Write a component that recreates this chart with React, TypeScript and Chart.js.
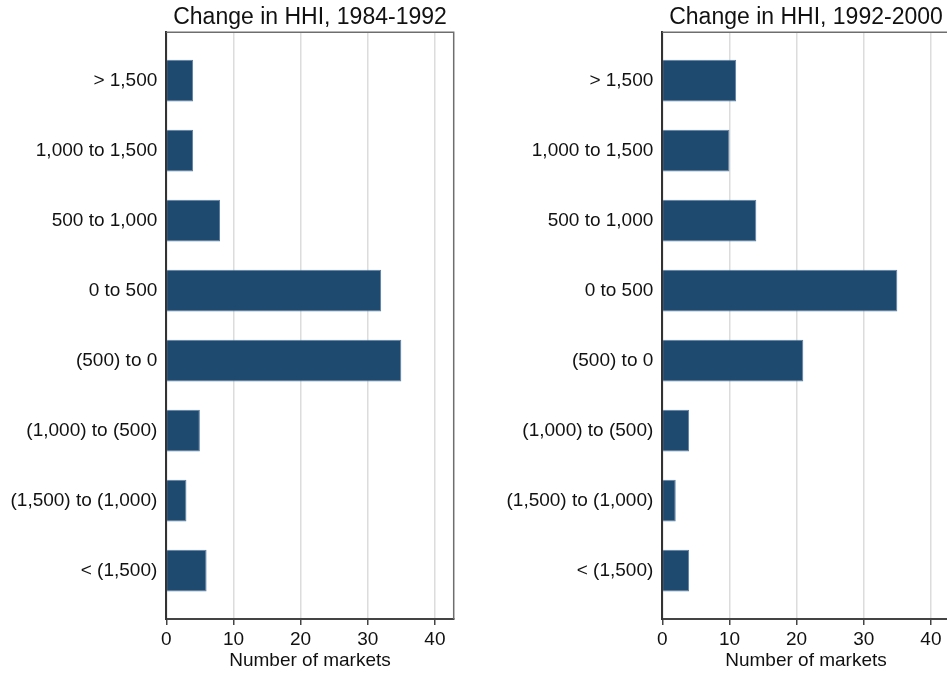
import React, { useEffect, useRef } from "react";
import { Chart, registerables } from "chart.js";

Chart.register(...registerables);

const categories = [
  "> 1,500",
  "1,000 to 1,500",
  "500 to 1,000",
  "0 to 500",
  "(500) to 0",
  "(1,000) to (500)",
  "(1,500) to (1,000)",
  "< (1,500)",
];
const values1984to1992 = [4, 4, 8, 32, 35, 5, 3, 6];
const values1992to2000 = [11, 10, 14, 35, 21, 4, 2, 4];
const xTicks = [0, 10, 20, 30, 40];
const panelTitles = ["Change in HHI, 1984-1992", "Change in HHI, 1992-2000"];
const xAxisTitle = "Number of markets";

const FONT = "'Liberation Sans', Arial, Helvetica, sans-serif";
const CANVAS_W = 480;
const CANVAS_H = 674;

const framePlugin = {
  id: "frame",
  afterDraw(chart: any) {
    const { ctx, chartArea } = chart;
    const { left, top, right, bottom } = chartArea;
    ctx.save();
    ctx.strokeStyle = "#6e6e6e";
    ctx.lineWidth = 1.5;
    ctx.beginPath();
    ctx.moveTo(left, top);
    ctx.lineTo(right, top);
    ctx.lineTo(right, bottom);
    ctx.stroke();
    ctx.restore();
  },
};

function Panel({ title, values }: { title: string; values: number[] }) {
  const ref = useRef<HTMLCanvasElement | null>(null);
  useEffect(() => {
    if (!ref.current) return;
    const chart = new Chart(ref.current, {
      type: "bar",
      data: {
        datasets: [
          {
            data: values.map((v, i) => ({ x: v, y: i })),
            backgroundColor: "#1f4a6f",
            borderColor: "#5b7ea3",
            borderWidth: 1,
            barPercentage: 0.595,
            categoryPercentage: 1,
          },
        ],
      },
      options: {
        indexAxis: "y",
        animation: false,
        responsive: false,
        devicePixelRatio: 1,
        layout: { padding: { left: 0, right: 26.3, top: 0, bottom: 0 } },
        plugins: {
          legend: { display: false },
          tooltip: { enabled: false },
          title: {
            display: true,
            text: title,
            fullSize: false,
            color: "#111",
            font: { family: FONT, size: 23, weight: "normal" },
            padding: { top: 4, bottom: 0.7 },
          },
        },
        scales: {
          x: {
            type: "linear",
            position: "bottom",
            min: 0,
            max: 42.8,
            afterBuildTicks: (s: any) => {
              s.ticks = xTicks.map((v) => ({ value: v }));
            },
            afterFit: (s: any) => {
              s.height = 55;
            },
            ticks: {
              color: "#111",
              padding: 3,
              font: { family: FONT, size: 19 },
            },
            grid: {
              color: "#dcdcdc",
              lineWidth: 1.5,
              tickLength: 6,
              tickColor: "#444",
              tickWidth: 1.5,
            },
            border: { display: true, color: "#444", width: 2 },
            title: {
              display: true,
              text: xAxisTitle,
              color: "#111",
              font: { family: FONT, size: 19 },
              padding: { top: 0, bottom: 2 },
            },
          },
          y: {
            type: "linear",
            reverse: true,
            offset: false,
            min: -0.69,
            max: 7.69,
            afterBuildTicks: (s: any) => {
              s.ticks = categories.map((_, i) => ({ value: i }));
            },
            afterFit: (s: any) => {
              s.width = 166.3;
            },
            ticks: {
              color: "#111",
              padding: 9,
              font: { family: FONT, size: 19 },
              callback: (v: any) => categories[Math.round(Number(v))] ?? "",
            },
            grid: { display: false, drawTicks: false, offset: false },
            border: { display: true, color: "#333", width: 2 },
          },
        },
      },
      plugins: [framePlugin],
    } as any);
    return () => chart.destroy();
  }, [title, values]);
  return (
    <canvas
      ref={ref}
      width={CANVAS_W}
      height={CANVAS_H}
      style={{ width: CANVAS_W, height: CANVAS_H, display: "block" }}
    />
  );
}

export default function App() {
  return (
    <div
      style={{
        position: "fixed",
        left: 0,
        top: 0,
        width: 947,
        height: 674,
        overflow: "hidden",
        background: "#fff",
      }}
    >
      <div style={{ position: "absolute", left: 0, top: 0 }}>
        <Panel title={panelTitles[0]} values={values1984to1992} />
      </div>
      <div style={{ position: "absolute", left: 496, top: 0 }}>
        <Panel title={panelTitles[1]} values={values1992to2000} />
      </div>
    </div>
  );
}
